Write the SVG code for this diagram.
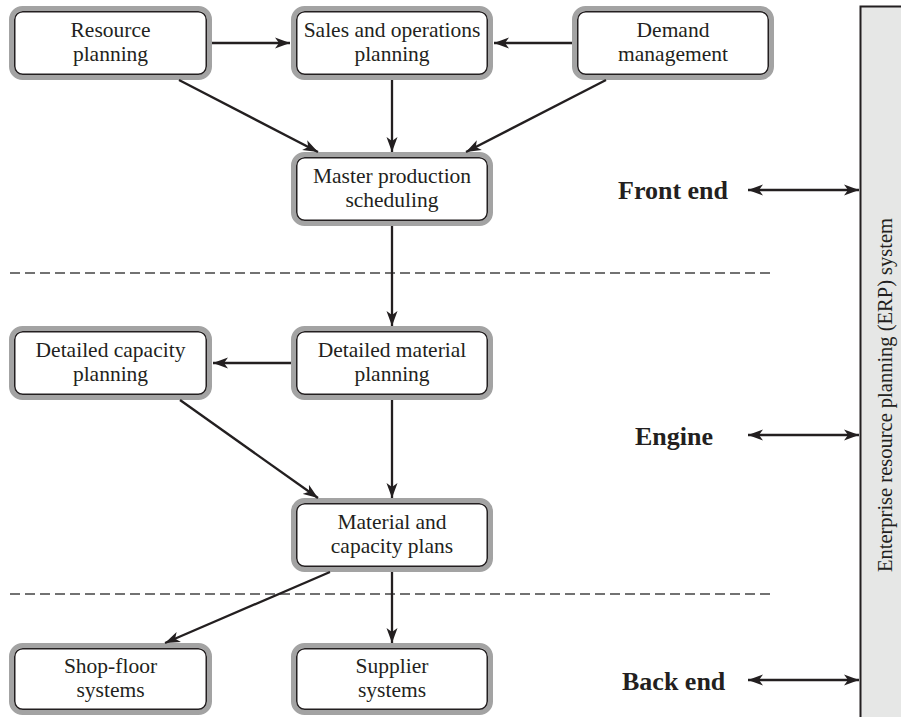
<svg xmlns="http://www.w3.org/2000/svg" width="901" height="717" viewBox="0 0 901 717">
<defs>
<marker id="ah" markerUnits="userSpaceOnUse" markerWidth="16" markerHeight="12" refX="15" refY="6" orient="auto">
<path d="M0,0.5 L15,6 L0,11.5 L4,6 Z" fill="#231f20"/>
</marker>
<marker id="ahs" markerUnits="userSpaceOnUse" markerWidth="16" markerHeight="12" refX="0" refY="6" orient="auto">
<path d="M15,0.5 L0,6 L15,11.5 L11,6 Z" fill="#231f20"/>
</marker>
</defs>
<style>
.ring{fill:none;stroke:#a3a3a3;stroke-width:5}
.box{fill:#fff;stroke:#231f20;stroke-width:1.5}
.t{font-family:"Liberation Serif","Times New Roman",serif;font-size:21.5px;fill:#231f20;text-anchor:middle}
.b{font-family:"Liberation Serif","Times New Roman",serif;font-size:26px;font-weight:bold;fill:#231f20}
.c{fill:none;stroke:#231f20;stroke-width:2.3}
.d{fill:none;stroke:#444;stroke-width:1.3;stroke-dasharray:10 5}
</style>
<rect x="860.5" y="6.5" width="50" height="720" fill="#e6e7e6" stroke="#231f20" stroke-width="2"/>
<text class="t" style="font-size:20.5px" transform="translate(892,395) rotate(-90)">Enterprise resource planning (ERP) system</text>
<g id="dividers">
<line class="d" x1="10" y1="273" x2="775" y2="273"/>
<line class="d" x1="10" y1="594" x2="775" y2="594"/>
</g>
<g id="n-rp"><rect class="ring" x="11.5" y="8.5" width="198" height="69" rx="11"/><rect class="box" x="14.75" y="11.75" width="191.5" height="62.5" rx="8"/><text class="t" x="110.5" y="37">Resource</text><text class="t" x="110.5" y="61">planning</text></g>
<g id="n-sop"><rect class="ring" x="293.5" y="8.5" width="197" height="69" rx="11"/><rect class="box" x="296.75" y="11.75" width="190.5" height="62.5" rx="8"/><text class="t" x="392" y="37">Sales and operations</text><text class="t" x="392" y="61">planning</text></g>
<g id="n-dm"><rect class="ring" x="574.5" y="8.5" width="197" height="69" rx="11"/><rect class="box" x="577.75" y="11.75" width="190.5" height="62.5" rx="8"/><text class="t" x="673" y="37">Demand</text><text class="t" x="673" y="61">management</text></g>
<g id="n-mps"><rect class="ring" x="293.5" y="154.5" width="197" height="69" rx="11"/><rect class="box" x="296.75" y="157.75" width="190.5" height="62.5" rx="8"/><text class="t" x="392" y="183">Master production</text><text class="t" x="392" y="207">scheduling</text></g>
<g id="n-dcp"><rect class="ring" x="11.5" y="328.5" width="198" height="69" rx="11"/><rect class="box" x="14.75" y="331.75" width="191.5" height="62.5" rx="8"/><text class="t" x="110.5" y="357">Detailed capacity</text><text class="t" x="110.5" y="381">planning</text></g>
<g id="n-dmp"><rect class="ring" x="293.5" y="328.5" width="197" height="69" rx="11"/><rect class="box" x="296.75" y="331.75" width="190.5" height="62.5" rx="8"/><text class="t" x="392" y="357">Detailed material</text><text class="t" x="392" y="381">planning</text></g>
<g id="n-mcp"><rect class="ring" x="293.5" y="500.5" width="197" height="69" rx="11"/><rect class="box" x="296.75" y="503.75" width="190.5" height="62.5" rx="8"/><text class="t" x="392" y="529">Material and</text><text class="t" x="392" y="553">capacity plans</text></g>
<g id="n-sf"><rect class="ring" x="11.5" y="645.5" width="198" height="67" rx="11"/><rect class="box" x="14.75" y="648.75" width="191.5" height="60.5" rx="8"/><text class="t" x="110.5" y="673">Shop-floor</text><text class="t" x="110.5" y="697">systems</text></g>
<g id="n-sup"><rect class="ring" x="293.5" y="645.5" width="197" height="67" rx="11"/><rect class="box" x="296.75" y="648.75" width="190.5" height="60.5" rx="8"/><text class="t" x="392" y="673">Supplier</text><text class="t" x="392" y="697">systems</text></g>
<g id="labels">
<text class="b" x="618" y="199">Front end</text>
<text class="b" x="635" y="445">Engine</text>
<text class="b" x="622" y="690">Back end</text>
</g>
<g id="connectors">
<line class="c" x1="212" y1="43" x2="290" y2="43" marker-end="url(#ah)"/>
<line class="c" x1="572" y1="43" x2="494" y2="43" marker-end="url(#ah)"/>
<line class="c" x1="179" y1="80" x2="318" y2="152" marker-end="url(#ah)"/>
<line class="c" x1="392" y1="80" x2="392" y2="152" marker-end="url(#ah)"/>
<line class="c" x1="606" y1="80" x2="466" y2="152" marker-end="url(#ah)"/>
<line class="c" x1="392" y1="226" x2="392" y2="326" marker-end="url(#ah)"/>
<line class="c" x1="291" y1="363" x2="213" y2="363" marker-end="url(#ah)"/>
<line class="c" x1="180" y1="400" x2="318" y2="498" marker-end="url(#ah)"/>
<line class="c" x1="392" y1="400" x2="392" y2="498" marker-end="url(#ah)"/>
<line class="c" x1="330" y1="572" x2="165" y2="643" marker-end="url(#ah)"/>
<line class="c" x1="392" y1="572" x2="392" y2="643" marker-end="url(#ah)"/>
<line class="c" x1="748" y1="190" x2="859" y2="190" marker-start="url(#ahs)" marker-end="url(#ah)"/>
<line class="c" x1="748" y1="435" x2="859" y2="435" marker-start="url(#ahs)" marker-end="url(#ah)"/>
<line class="c" x1="748" y1="680" x2="859" y2="680" marker-start="url(#ahs)" marker-end="url(#ah)"/>
</g>
</svg>
